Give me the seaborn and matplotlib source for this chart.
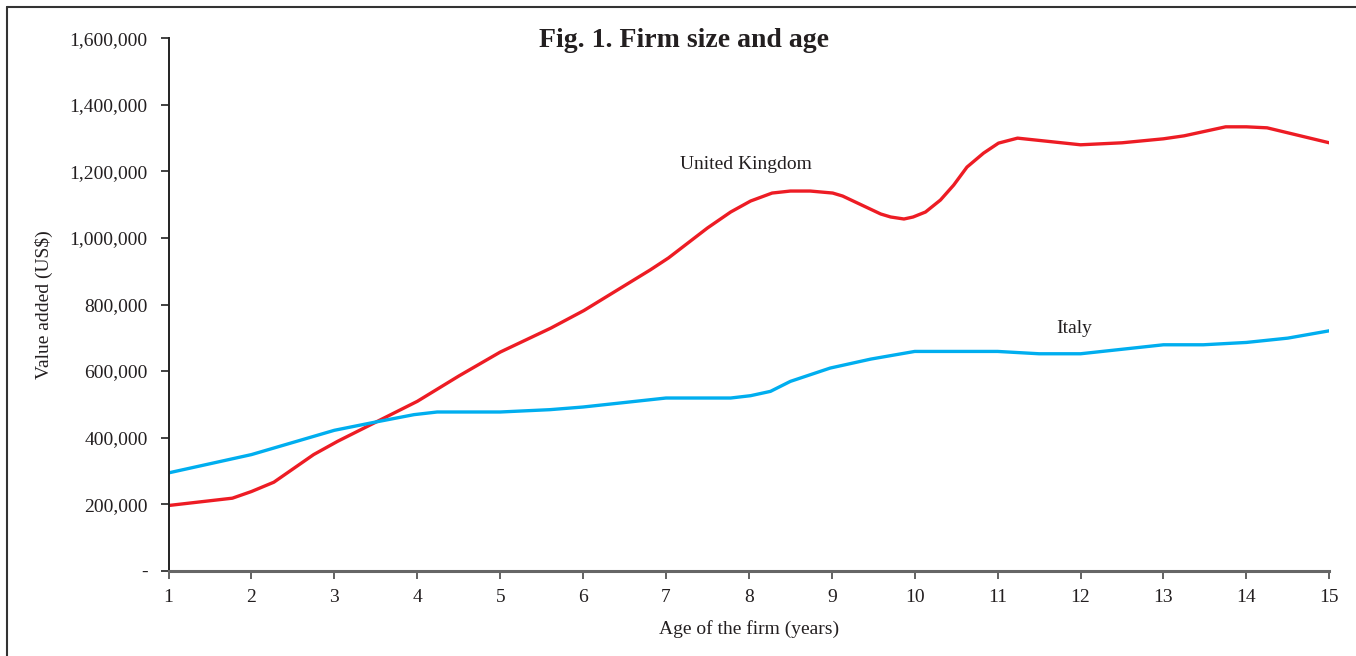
import numpy as np
import pandas as pd
import seaborn as sns
import matplotlib.pyplot as plt
from matplotlib.lines import Line2D

# Data (value added, US$)
uk_age = [1.0, 1.77, 2.0, 2.27, 2.75, 3.04, 4.0, 4.5, 5.0, 5.61, 6.01, 6.81, 7.03,
          7.5, 7.78, 8.02, 8.28, 8.5, 8.74, 9.01, 9.13, 9.59, 9.71, 9.87, 9.98,
          10.13, 10.31, 10.47, 10.63, 10.83, 11.01, 11.24, 12.0, 12.5, 13.0,
          13.25, 13.75, 14.0, 14.25, 15.0]
uk_value = [196000, 218000, 238000, 266000, 349000, 389000, 509000, 585000, 657000,
            729000, 782000, 904000, 940000, 1030000, 1078000, 1111000, 1135000,
            1141000, 1141000, 1135000, 1126000, 1072000, 1063000, 1057000, 1063000,
            1078000, 1114000, 1159000, 1213000, 1255000, 1285000, 1300000, 1280000,
            1286000, 1298000, 1307000, 1334000, 1334000, 1331000, 1286000]

italy_age = [1.0, 2.0, 3.0, 3.48, 3.96, 4.24, 5.0, 5.6, 6.0, 7.0, 7.78, 8.02, 8.26,
             8.5, 8.98, 9.47, 10.0, 11.0, 11.5, 12.0, 13.0, 13.48, 14.0, 14.5, 15.0]
italy_value = [294000, 349000, 422000, 446000, 469000, 477000, 477000, 484000,
               492000, 519000, 519000, 526000, 539000, 569000, 609000, 636000,
               659000, 659000, 652000, 652000, 679000, 679000, 686000, 699000, 721000]

y_ticks = [0, 200000, 400000, 600000, 800000, 1000000, 1200000, 1400000, 1600000]
x_ticks = list(range(1, 16))

df = pd.concat([
    pd.DataFrame({"age": uk_age, "value": uk_value, "country": "United Kingdom"}),
    pd.DataFrame({"age": italy_age, "value": italy_value, "country": "Italy"}),
])

sns.set_style("white")
plt.rcParams["font.family"] = ["Liberation Serif", "DejaVu Serif"]
text_col = "#231F20"

fig = plt.figure(figsize=(13.56, 6.56), dpi=100)
ax = fig.add_axes([0.1243, 0.130, 0.8560, 0.8116])

sns.lineplot(data=df, x="age", y="value", hue="country", sort=False,
             palette={"United Kingdom": "#ED1C24", "Italy": "#00AEEF"},
             linewidth=2.4, legend=False, ax=ax)

ax.set_xlim(1, 15)
ax.set_ylim(0, 1600000)
ax.set_xticks(x_ticks)
ax.set_xticklabels([str(t) for t in x_ticks])
ax.set_yticks(y_ticks)
ax.set_yticklabels(["-" if t == 0 else f"{t:,}" for t in y_ticks])

for s in ["top", "right"]:
    ax.spines[s].set_visible(False)
ax.spines["left"].set_color("#222222")
ax.spines["left"].set_linewidth(1.4)
ax.spines["bottom"].set_color("#666666")
ax.spines["bottom"].set_linewidth(2.2)

ax.tick_params(axis="y", direction="out", length=6, width=1.3, color="#333333",
               pad=9, labelsize=14, labelcolor=text_col, left=True)
ax.tick_params(axis="x", direction="out", length=6, width=1.3, color="#555555",
               pad=7, labelsize=14, labelcolor=text_col, bottom=True)

ax.set_xlabel("Age of the firm (years)", fontsize=14, color=text_col, labelpad=10)
ax.set_ylabel("Value added (US$)", fontsize=14, color=text_col, labelpad=12)

ax.text(7.97, 1220000, "United Kingdom", fontsize=14, color=text_col,
        ha="center", va="center")
ax.text(11.92, 727000, "Italy", fontsize=14, color=text_col,
        ha="center", va="center")

fig.text(0.5045, 0.939, "Fig. 1. Firm size and age", fontsize=20,
         fontweight="bold", color=text_col, ha="center", va="center")

# frame around the figure (top and left edges)
fig.add_artist(Line2D([7 / 1356, 1], [1 - 7 / 656, 1 - 7 / 656],
                      color="#333333", linewidth=1.5))
fig.add_artist(Line2D([7 / 1356, 7 / 1356], [0, 1 - 7 / 656],
                      color="#333333", linewidth=1.5))

fig.savefig("out.png", dpi=100)
